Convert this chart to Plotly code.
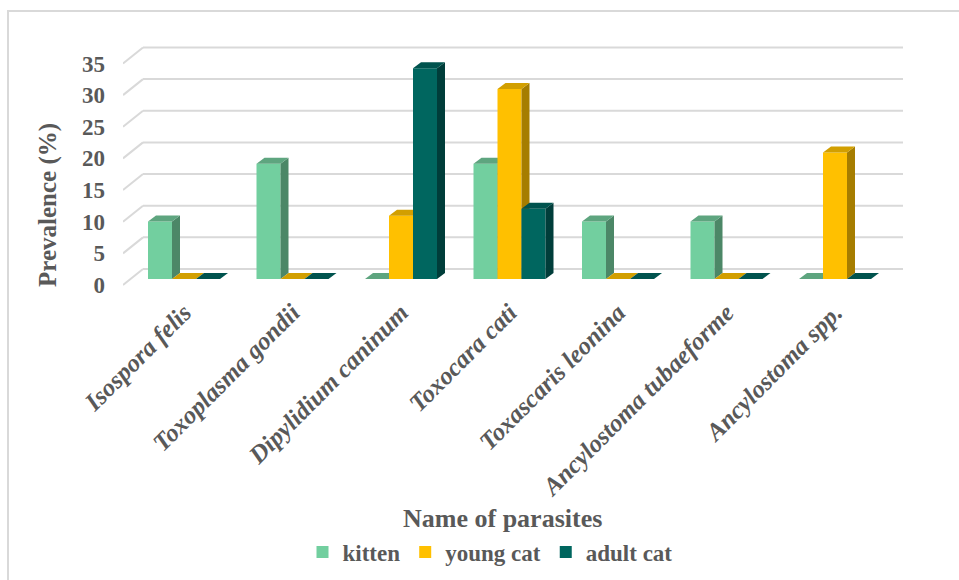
import plotly.graph_objects as go

# ---- data -----------------------------------------------------------------
parasites = ["Isospora felis", "Toxoplasma gondii", "Dipylidium caninum",
             "Toxocara cati", "Toxascaris leonina", "Ancylostoma tubaeforme",
             "Ancylostoma spp."]
kitten = [9.1, 18.2, 0, 18.2, 9.1, 9.1, 0]
young_cat = [0, 0, 10, 30, 0, 0, 20]
adult_cat = [0, 0, 33.3, 11.1, 0, 0, 0]
y_ticks = [0, 5, 10, 15, 20, 25, 30, 35]

# ---- geometry (pixels) ----------------------------------------------------
W, H = 959, 580
ML, MR, MT, MB = 123, 56, 38, 288
plot_w, plot_h = W - ML - MR, H - MT - MB

CAT_PX = 108.5          # spacing between categories
FIRST_CENTER_PX = 184   # centre of first group on the bar plane
ZERO_PX = 279           # baseline of the bar plane
UNIT_PX = 6.33          # pixels per percentage point

x0 = -(FIRST_CENTER_PX - ML) / CAT_PX
x1 = x0 + plot_w / CAT_PX
y0 = -((H - MB) - ZERO_PX) / UNIT_PX
y1 = y0 + plot_h / UNIT_PX

BAR_W = 24 / CAT_PX               # bar width in category units
DEPTH_X = 8 / CAT_PX              # bar depth (to the right)
DEPTH_Y = 6 / UNIT_PX             # bar depth (upwards)
FRONT_SHIFT = 6 / UNIT_PX         # front wall below bar plane
BACK_SHIFT = 10 / UNIT_PX         # back wall above bar plane
BACK_LEFT_X = (143 - FIRST_CENTER_PX) / CAT_PX

FONT = "Liberation Serif"
GREY = "#595959"
GRID = "#D9D9D9"

series = [
    ("kitten", kitten, "#72CF9F", "#5EA57F", "#4C8767"),
    ("young cat", young_cat, "#FFC000", "#D29F00", "#A67D00"),
    ("adult cat", adult_cat, "#00665F", "#00534E", "#003D3A"),
]


def px_x(p):
    return (p - ML) / plot_w


def px_y(p):
    return ((H - MB) - p) / plot_h


fig = go.Figure()

for k, (name, vals, front, top, side) in enumerate(series):
    off = (k - 1.5) * BAR_W
    xa = "x" if k == 0 else f"x{k + 1}"
    ya = "y" if k == 0 else f"y{k + 1}"
    xs = list(range(len(parasites)))

    # front faces
    fig.add_trace(go.Bar(
        x=xs, y=vals, name=name, width=BAR_W, offset=off,
        marker=dict(color=front, line=dict(width=0)),
        xaxis=xa, yaxis=ya, hoverinfo="y+name"))

    # side and top faces of each column
    sx, sy, tx, ty = [], [], [], []
    for i, v in enumerate(vals):
        xl = i + off
        xr = xl + BAR_W
        sx += [xr, xr + DEPTH_X, xr + DEPTH_X, xr, xr, None]
        sy += [0, DEPTH_Y, v + DEPTH_Y, v, 0, None]
        tx += [xl, xl + DEPTH_X, xr + DEPTH_X, xr, xl, None]
        ty += [v, v + DEPTH_Y, v + DEPTH_Y, v, v, None]
    fig.add_trace(go.Scatter(x=sx, y=sy, mode="lines", fill="toself",
                             fillcolor=side, line=dict(width=0, color=side),
                             showlegend=False, hoverinfo="skip",
                             xaxis=xa, yaxis=ya))
    fig.add_trace(go.Scatter(x=tx, y=ty, mode="lines", fill="toself",
                             fillcolor=top, line=dict(width=0, color=top),
                             showlegend=False, hoverinfo="skip",
                             xaxis=xa, yaxis=ya))

# value axis carrying the labels (on the front wall)
fig.add_trace(go.Scatter(x=[0], y=[0], mode="markers", marker=dict(opacity=0),
                         showlegend=False, hoverinfo="skip", yaxis="y4"))

# back-wall gridlines and side-wall diagonals
for t in y_ticks:
    fig.add_shape(type="line", xref="x", yref="y", layer="below",
                  x0=x0, y0=t - FRONT_SHIFT, x1=BACK_LEFT_X, y1=t + BACK_SHIFT,
                  line=dict(color=GRID, width=2))
    fig.add_shape(type="line", xref="x", yref="y", layer="below",
                  x0=BACK_LEFT_X, y0=t + BACK_SHIFT, x1=x1, y1=t + BACK_SHIFT,
                  line=dict(color=GRID, width=2))

# chart frame
fig.add_shape(type="rect", xref="paper", yref="paper", layer="below",
              x0=px_x(8), y0=px_y(11), x1=px_x(W + 20), y1=px_y(H + 20),
              line=dict(color=GRID, width=2), fillcolor="rgba(0,0,0,0)")

# axis titles
fig.add_annotation(text="Name of parasites", xref="paper", yref="paper",
                   x=px_x(502), y=px_y(518), showarrow=False,
                   xanchor="center", yanchor="middle",
                   font=dict(family=FONT, size=26, color=GREY, weight="bold"))
fig.add_annotation(text="Prevalence (%)", xref="paper", yref="paper",
                   x=px_x(48), y=px_y(205), showarrow=False, textangle=-90,
                   xanchor="center", yanchor="middle",
                   font=dict(family=FONT, size=25, color=GREY, weight="bold"))

hidden = dict(visible=False, showgrid=False, zeroline=False, fixedrange=True)

fig.update_layout(
    width=W, height=H,
    margin=dict(l=ML, r=MR, t=MT, b=MB, autoexpand=False),
    paper_bgcolor="white", plot_bgcolor="white",
    barmode="overlay",
    font=dict(family=FONT, color=GREY),
    xaxis=dict(range=[x0, x1], tickmode="array",
               tickvals=list(range(len(parasites))), ticktext=parasites,
               tickangle=-45, showgrid=False, zeroline=False, showline=False,
               ticks="", automargin=False,
               tickfont=dict(family=FONT, size=25, color=GREY,
                             weight="bold", style="italic")),
    yaxis=dict(range=[y0, y1], showgrid=False, zeroline=False,
               showline=False, showticklabels=False, ticks=""),
    xaxis2=dict(range=[x0, x1], overlaying="x", anchor="y2", **hidden),
    yaxis2=dict(range=[y0, y1], overlaying="y", anchor="x2", **hidden),
    xaxis3=dict(range=[x0, x1], overlaying="x", anchor="y3", **hidden),
    yaxis3=dict(range=[y0, y1], overlaying="y", anchor="x3", **hidden),
    yaxis4=dict(range=[y0 + FRONT_SHIFT, y1 + FRONT_SHIFT], overlaying="y",
                anchor="x", side="left", tickmode="array", tickvals=y_ticks,
                showgrid=False, zeroline=False, showline=False, ticks="",
                ticklabelstandoff=17, automargin=False,
                tickfont=dict(family=FONT, size=23, color=GREY, weight="bold")),
    legend=dict(orientation="h", x=px_x(490), xanchor="center",
                y=px_y(552), yanchor="middle", traceorder="normal",
                font=dict(family=FONT, size=23, color=GREY, weight="bold"),
                bgcolor="rgba(0,0,0,0)"),
    showlegend=True,
)

fig.write_html("out.html")
